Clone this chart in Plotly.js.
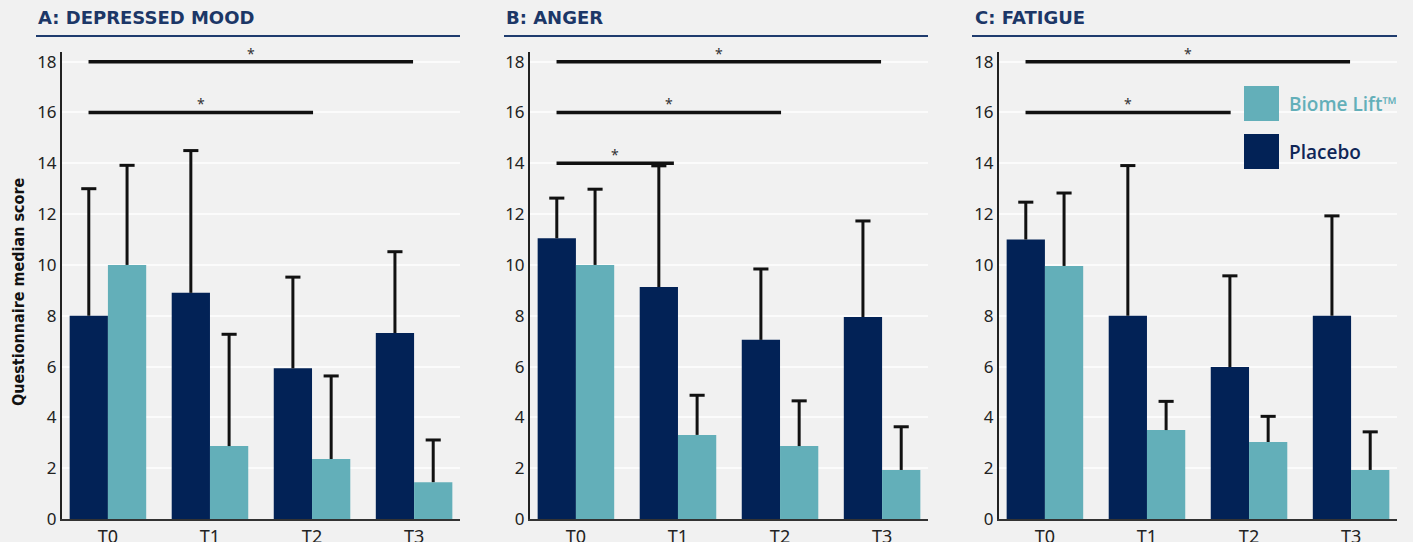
<!DOCTYPE html>
<html><head><meta charset="utf-8">
<script src="https://cdn.plot.ly/plotly-3.0.1.min.js"></script>
<style>html,body{margin:0;padding:0;background:#f1f1f1;} #chart{width:1413px;height:542px;}</style>
</head><body><div id="chart"></div>
<script>
// ---------------- DATA ----------------
const timepoints = ['T0', 'T1', 'T2', 'T3'];
const panelTitles = ['A: DEPRESSED MOOD', 'B: ANGER', 'C: FATIGUE'];
const seriesNames = ['Biome Lift™', 'Placebo'];
const yAxisTitle = 'Questionnaire median score';
const yTicks = [0, 2, 4, 6, 8, 10, 12, 14, 16, 18];

// A: Depressed mood (median, upper whisker)
const moodPlacebo = [8.0, 8.9, 5.93, 7.32];
const moodPlaceboUpper = [13.0, 14.5, 9.52, 10.52];
const moodBiome = [10.0, 2.87, 2.36, 1.45];
const moodBiomeUpper = [13.92, 7.27, 5.63, 3.11];
// B: Anger
const angerPlacebo = [11.05, 9.13, 7.05, 7.95];
const angerPlaceboUpper = [12.63, 13.9, 9.84, 11.73];
const angerBiome = [10.0, 3.31, 2.87, 1.93];
const angerBiomeUpper = [12.98, 4.87, 4.65, 3.63];
// C: Fatigue
const fatiguePlacebo = [11.0, 8.0, 5.98, 8.0];
const fatiguePlaceboUpper = [12.47, 13.91, 9.57, 11.93];
const fatigueBiome = [9.96, 3.5, 3.03, 1.93];
const fatigueBiomeUpper = [12.83, 4.63, 4.04, 3.43];

// Significance brackets (level, start, end in timepoint units)
const moodSigLevels = [18, 16];
const moodSigStarts = [-0.19, -0.19];
const moodSigEnds = [2.99, 2.01];
const angerSigLevels = [18, 16, 14];
const angerSigStarts = [-0.19, -0.19, -0.19];
const angerSigEnds = [2.99, 2.01, 0.96];
const fatigueSigLevels = [18, 16];
const fatigueSigStarts = [-0.19, -0.19];
const fatigueSigEnds = [2.99, 1.82];

// ---------------- STYLE / LAYOUT ----------------
const W = 1413, H = 542;
const navy = '#022256', teal = '#63afb9', titleNavy = '#1c3767', bg = '#f1f1f1';
const bargap = 0.25;
const panels = [
  {placebo: moodPlacebo, placeboUp: moodPlaceboUpper, biome: moodBiome, biomeUp: moodBiomeUpper,
   sigL: moodSigLevels, sigS: moodSigStarts, sigE: moodSigEnds, px: [62, 460], tx: 36, ux: [36, 460]},
  {placebo: angerPlacebo, placeboUp: angerPlaceboUpper, biome: angerBiome, biomeUp: angerBiomeUpper,
   sigL: angerSigLevels, sigS: angerSigStarts, sigE: angerSigEnds, px: [530, 928], tx: 504, ux: [504, 928]},
  {placebo: fatiguePlacebo, placeboUp: fatiguePlaceboUpper, biome: fatigueBiome, biomeUp: fatigueBiomeUpper,
   sigL: fatigueSigLevels, sigS: fatigueSigStarts, sigE: fatigueSigEnds, px: [999, 1397], tx: 973, ux: [972, 1397]}
];
const yDom = [(H - 519) / H, (H - 52) / H];
const xIdx = timepoints.map((t, i) => i);
const barW = (1 - bargap) / 2;
const capHalf = 0.074;

const traces = [];
const annotations = [];
const shapes = [];
const layout = {
  width: W, height: H, margin: {l: 0, r: 0, t: 0, b: 0},
  paper_bgcolor: bg, plot_bgcolor: bg,
  barmode: 'group', bargap: bargap, bargroupgap: 0,
  showlegend: false,
  font: {family: 'Noto Sans, sans-serif', color: '#222'}
};

function whiskers(vals, ups, off) {
  const xs = [], ys = [];
  vals.forEach((v, i) => {
    const cx = xIdx[i] + off;
    xs.push(cx, cx, null, cx - capHalf, cx + capHalf, null);
    ys.push(v, ups[i], null, ups[i], ups[i], null);
  });
  return {xs, ys};
}

panels.forEach((p, k) => {
  const xa = k === 0 ? 'x' : 'x' + (k + 1);
  const ya = k === 0 ? 'y' : 'y' + (k + 1);
  const xKey = k === 0 ? 'xaxis' : 'xaxis' + (k + 1);
  const yKey = k === 0 ? 'yaxis' : 'yaxis' + (k + 1);
  traces.push({type: 'bar', x: xIdx, y: p.placebo, name: seriesNames[1], xaxis: xa, yaxis: ya,
    marker: {color: navy}, hoverinfo: 'skip'});
  traces.push({type: 'bar', x: xIdx, y: p.biome, name: seriesNames[0], xaxis: xa, yaxis: ya,
    marker: {color: teal}, hoverinfo: 'skip'});
  const w1 = whiskers(p.placebo, p.placeboUp, -barW / 2);
  const w2 = whiskers(p.biome, p.biomeUp, barW / 2);
  traces.push({type: 'scatter', mode: 'lines', x: w1.xs.concat(w2.xs), y: w1.ys.concat(w2.ys),
    xaxis: xa, yaxis: ya, line: {color: '#111', width: 3}, hoverinfo: 'skip', connectgaps: false});
  // significance lines
  const sx = [], sy = [];
  p.sigL.forEach((lv, j) => {
    sx.push(p.sigS[j], p.sigE[j], null); sy.push(lv, lv, null);
    annotations.push({xref: xa, yref: ya, x: (p.sigS[j] + p.sigE[j]) / 2, y: lv, text: '*',
      showarrow: false, yanchor: 'bottom', yshift: -3, font: {size: 14, color: '#333'}});
  });
  traces.push({type: 'scatter', mode: 'lines', x: sx, y: sy, xaxis: xa, yaxis: ya,
    line: {color: '#111', width: 3.5}, hoverinfo: 'skip'});

  layout[xKey] = {domain: [p.px[0] / W, p.px[1] / W], anchor: ya, range: [-0.45, 3.45],
    tickmode: 'array', tickvals: xIdx, ticktext: timepoints, showgrid: false, zeroline: false,
    showline: true, linecolor: '#333', linewidth: 2, ticks: '', tickfont: {size: 18, color: '#222'}, fixedrange: true};
  layout[yKey] = {domain: yDom, anchor: xa, range: [0, 18.38], tickmode: 'array', tickvals: yTicks,
    showgrid: true, gridcolor: '#fbfbfb', gridwidth: 2, zeroline: false, showline: true,
    linecolor: '#222', linewidth: 2, ticks: '', tickfont: {size: 17, color: '#222'}, fixedrange: true};

  annotations.push({xref: 'paper', yref: 'paper', x: p.tx / W, y: (H - 18) / H, xanchor: 'left', yanchor: 'middle',
    text: '<b>' + panelTitles[k] + '</b>', showarrow: false,
    font: {family: 'DejaVu Sans, sans-serif', size: 18, color: titleNavy}});
  shapes.push({type: 'line', xref: 'paper', yref: 'paper', x0: p.ux[0] / W, x1: p.ux[1] / W,
    y0: (H - 36) / H, y1: (H - 36) / H, line: {color: '#1f3c6e', width: 2}});
});

// y-axis title
annotations.push({xref: 'paper', yref: 'paper', x: 18 / W, y: (H - 292) / H, xanchor: 'center', yanchor: 'middle',
  text: '<b>' + yAxisTitle + '</b>', textangle: -90, showarrow: false,
  font: {family: 'Liberation Sans Narrow, DejaVu Sans Condensed, sans-serif', size: 16, color: '#111'}});

// legend (custom, large swatches)
const legendColors = [teal, navy];
const legendTextColors = [teal, '#0f2657'];
const legendTops = [86, 134];
seriesNames.forEach((nm, i) => {
  shapes.push({type: 'rect', xref: 'paper', yref: 'paper', x0: 1244 / W, x1: 1279 / W,
    y0: (H - legendTops[i] - 35) / H, y1: (H - legendTops[i]) / H, fillcolor: legendColors[i], line: {width: 0}});
  annotations.push({xref: 'paper', yref: 'paper', x: 1287 / W, y: (H - legendTops[i] - 18) / H,
    xanchor: 'left', yanchor: 'middle', text: nm, showarrow: false,
    font: {family: 'Open Sans, Noto Sans, sans-serif', size: 19, weight: 600, color: legendTextColors[i]}});
});

layout.annotations = annotations;
layout.shapes = shapes;
Plotly.newPlot('chart', traces, layout, {displayModeBar: false, staticPlot: true});
</script>
</body></html>
